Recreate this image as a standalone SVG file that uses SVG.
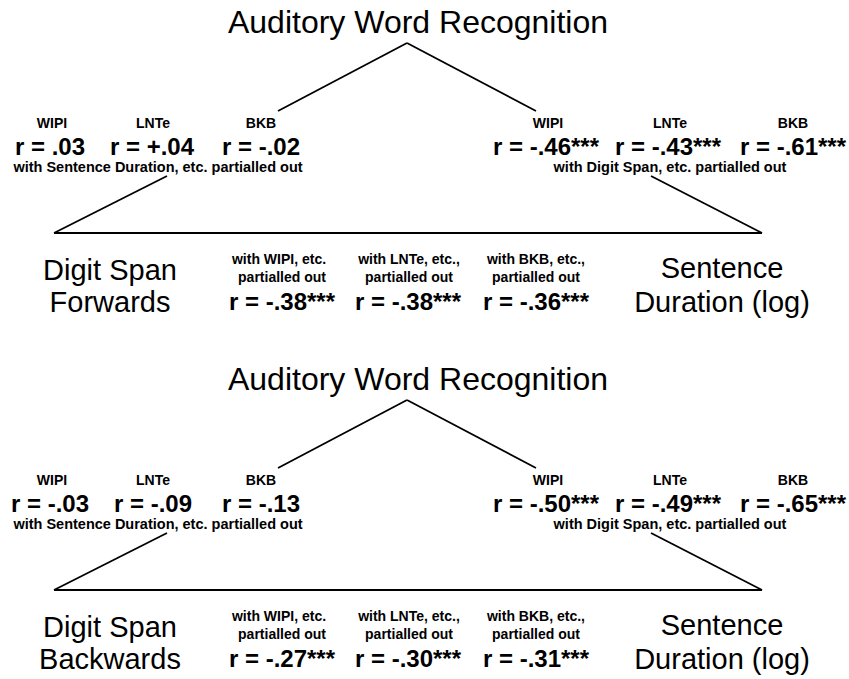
<svg xmlns="http://www.w3.org/2000/svg" width="849" height="679" viewBox="0 0 849 679">
<style>
.title{font-family:"Liberation Sans",Arial,sans-serif;font-size:32px;fill:#000;text-anchor:middle}
.big{font-family:"Liberation Sans",Arial,sans-serif;font-size:29px;fill:#000;text-anchor:middle}
.lab{font-family:"Liberation Sans",Arial,sans-serif;font-size:14px;font-weight:bold;fill:#000;text-anchor:middle}
.note{font-family:"Liberation Sans",Arial,sans-serif;font-size:14.5px;font-weight:bold;fill:#000;text-anchor:middle}
.r{font-family:"Liberation Sans",Arial,sans-serif;font-size:24px;font-weight:bold;fill:#000;text-anchor:middle}
.ln{stroke:#000;stroke-width:1.8;fill:none}
</style>
<rect width="849" height="679" fill="#fff"/>

<g id="panel-forwards">
  <g id="connectors-1">
    <line class="ln" x1="407" y1="43" x2="278" y2="111"/>
    <line class="ln" x1="407" y1="43" x2="536" y2="111"/>
    <line class="ln" x1="167" y1="176" x2="54" y2="233"/>
    <line class="ln" x1="54" y1="233" x2="762" y2="233"/>
    <line class="ln" x1="651" y1="176" x2="762" y2="233"/>
  </g>
  <g id="awr-1"><text class="title" x="418" y="33">Auditory Word Recognition</text></g>
  <g id="left-corr-1">
    <text class="lab" x="52" y="128">WIPI</text>
    <text class="lab" x="153" y="128">LNTe</text>
    <text class="lab" x="261" y="128">BKB</text>
    <text class="r" x="50" y="155">r = .03</text>
    <text class="r" x="152" y="155">r = +.04</text>
    <text class="r" x="261" y="155">r = -.02</text>
    <text class="note" x="158" y="172">with Sentence Duration, etc. partialled out</text>
  </g>
  <g id="right-corr-1">
    <text class="lab" x="548" y="128">WIPI</text>
    <text class="lab" x="670" y="128">LNTe</text>
    <text class="lab" x="793" y="128">BKB</text>
    <text class="r" x="546" y="155">r = -.46***</text>
    <text class="r" x="668" y="155">r = -.43***</text>
    <text class="r" x="793" y="155">r = -.61***</text>
    <text class="note" x="670" y="172">with Digit Span, etc. partialled out</text>
  </g>
  <g id="dsf">
    <text class="big" x="110" y="280">Digit Span</text>
    <text class="big" x="110" y="312">Forwards</text>
  </g>
  <g id="mid-corr-1">
    <text class="lab" x="279" y="264">with WIPI, etc.</text>
    <text class="lab" x="282" y="282">partialled out</text>
    <text class="r" x="282" y="310">r = -.38***</text>
    <text class="lab" x="409" y="264">with LNTe, etc.,</text>
    <text class="lab" x="409" y="282">partialled out</text>
    <text class="r" x="408" y="310">r = -.38***</text>
    <text class="lab" x="536" y="264">with BKB, etc.,</text>
    <text class="lab" x="536" y="282">partialled out</text>
    <text class="r" x="536" y="310">r = -.36***</text>
  </g>
  <g id="sd-1">
    <text class="big" x="722" y="278">Sentence</text>
    <text class="big" x="722" y="312">Duration (log)</text>
  </g>
</g>

<g id="panel-backwards" transform="translate(0,357)">
  <g id="connectors-2">
    <line class="ln" x1="407" y1="43" x2="278" y2="111"/>
    <line class="ln" x1="407" y1="43" x2="536" y2="111"/>
    <line class="ln" x1="167" y1="176" x2="54" y2="233"/>
    <line class="ln" x1="54" y1="233" x2="762" y2="233"/>
    <line class="ln" x1="651" y1="176" x2="762" y2="233"/>
  </g>
  <g id="awr-2"><text class="title" x="418" y="33">Auditory Word Recognition</text></g>
  <g id="left-corr-2">
    <text class="lab" x="52" y="128">WIPI</text>
    <text class="lab" x="153" y="128">LNTe</text>
    <text class="lab" x="261" y="128">BKB</text>
    <text class="r" x="50" y="155">r = -.03</text>
    <text class="r" x="153" y="155">r = -.09</text>
    <text class="r" x="261" y="155">r = -.13</text>
    <text class="note" x="158" y="172">with Sentence Duration, etc. partialled out</text>
  </g>
  <g id="right-corr-2">
    <text class="lab" x="548" y="128">WIPI</text>
    <text class="lab" x="670" y="128">LNTe</text>
    <text class="lab" x="793" y="128">BKB</text>
    <text class="r" x="546" y="155">r = -.50***</text>
    <text class="r" x="668" y="155">r = -.49***</text>
    <text class="r" x="793" y="155">r = -.65***</text>
    <text class="note" x="670" y="172">with Digit Span, etc. partialled out</text>
  </g>
  <g id="dsb">
    <text class="big" x="110" y="280">Digit Span</text>
    <text class="big" x="110" y="312">Backwards</text>
  </g>
  <g id="mid-corr-2">
    <text class="lab" x="279" y="264">with WIPI, etc.</text>
    <text class="lab" x="282" y="282">partialled out</text>
    <text class="r" x="282" y="310">r = -.27***</text>
    <text class="lab" x="409" y="264">with LNTe, etc.,</text>
    <text class="lab" x="409" y="282">partialled out</text>
    <text class="r" x="408" y="310">r = -.30***</text>
    <text class="lab" x="536" y="264">with BKB, etc.,</text>
    <text class="lab" x="536" y="282">partialled out</text>
    <text class="r" x="536" y="310">r = -.31***</text>
  </g>
  <g id="sd-2">
    <text class="big" x="722" y="278">Sentence</text>
    <text class="big" x="722" y="312">Duration (log)</text>
  </g>
</g>
</svg>
